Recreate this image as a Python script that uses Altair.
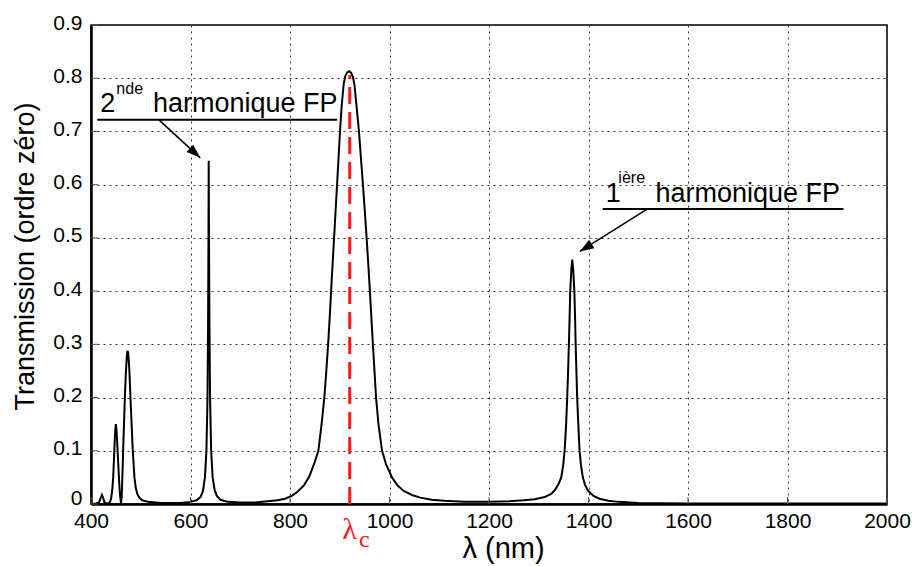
import altair as alt
import pandas as pd

# ---- data ----
wavelength_nm = [
    400, 410, 416, 419, 422, 424.5, 427, 432, 437, 440.5,
    443, 444.6, 446, 447.3, 448.7, 450, 451.3, 452.7, 454, 455.5,
    457, 458.5, 460.3, 461.8, 463, 464.6, 466.3, 468, 470, 472,
    473.5, 475, 477.2, 479.3, 481.6, 484, 487.3, 490, 493, 497,
    503, 515, 540, 580, 600, 612, 620, 625, 629, 632,
    634.2, 635.4, 636.1, 636.6, 637.2, 638, 639.3, 641.5, 644.5, 648.6,
    653, 660, 675, 700, 730, 755, 775, 790, 803, 815,
    828, 839, 849, 857, 863.5, 869, 873, 876.6, 879.8, 882.6,
    885.6, 888.6, 891.6, 894.6, 897.6, 900.5, 904, 908, 911.5, 915,
    919, 923, 926.5, 929.5, 933.5, 938.6, 942.6, 946.6, 950.4, 954,
    957.4, 960.6, 963.6, 966.6, 969.8, 973, 977.8, 985, 993, 1005,
    1016, 1028, 1045, 1062, 1085, 1110, 1150, 1200, 1240, 1270,
    1292, 1312, 1325, 1333, 1340, 1345.2, 1349, 1352, 1355, 1357.2,
    1359, 1360.6, 1362, 1363.3, 1365.5, 1367.4, 1369.3, 1371.6, 1373, 1374.2,
    1375.7, 1377.2, 1379.5, 1382, 1385, 1388.6, 1393, 1399, 1410, 1422,
    1440, 1460, 1500, 1600, 1800, 2000,
]
transmission = [
    0.000, 0.001, 0.003, 0.010, 0.017, 0.011, 0.003, 0.001, 0.002, 0.010,
    0.030, 0.050, 0.080, 0.110, 0.138, 0.150, 0.138, 0.115, 0.090, 0.062,
    0.035, 0.015, 0.002, 0.015, 0.050, 0.100, 0.150, 0.200, 0.245, 0.278,
    0.288, 0.282, 0.250, 0.200, 0.150, 0.100, 0.050, 0.030, 0.019, 0.012,
    0.007, 0.004, 0.002, 0.002, 0.004, 0.007, 0.013, 0.024, 0.050, 0.100,
    0.200, 0.350, 0.500, 0.645, 0.500, 0.350, 0.200, 0.100, 0.050, 0.026,
    0.015, 0.008, 0.004, 0.003, 0.003, 0.005, 0.007, 0.010, 0.015, 0.023,
    0.035, 0.052, 0.077, 0.100, 0.150, 0.200, 0.250, 0.300, 0.350, 0.400,
    0.450, 0.500, 0.550, 0.600, 0.650, 0.700, 0.750, 0.790, 0.805, 0.811,
    0.813, 0.810, 0.802, 0.788, 0.750, 0.700, 0.650, 0.600, 0.550, 0.500,
    0.450, 0.400, 0.350, 0.300, 0.250, 0.200, 0.150, 0.100, 0.075, 0.050,
    0.035, 0.025, 0.017, 0.012, 0.008, 0.006, 0.004, 0.004, 0.005, 0.007,
    0.009, 0.013, 0.019, 0.027, 0.038, 0.050, 0.072, 0.100, 0.150, 0.200,
    0.250, 0.300, 0.350, 0.400, 0.440, 0.459, 0.440, 0.400, 0.350, 0.300,
    0.250, 0.200, 0.150, 0.100, 0.072, 0.050, 0.036, 0.025, 0.015, 0.010,
    0.006, 0.004, 0.002, 0.001, 0.001, 0.001,
]

x_ticks = [400, 600, 800, 1000, 1200, 1400, 1600, 1800, 2000]
y_ticks = [0, 0.1, 0.2, 0.3, 0.4, 0.5, 0.6, 0.7, 0.8, 0.9]

lambda_c = [920]
lambda_c_top = [0.806]

# annotation texts (positions in data units)
ann_text = ["2", "nde", "harmonique FP", "1", "ière", "harmonique FP"]
ann_x = [418.6, 451.0, 524.6, 1434.6, 1460.0, 1534.6]
ann_y = [0.7374, 0.7707, 0.7374, 0.568, 0.6025, 0.568]
ann_size = [27, 16, 27, 27, 16, 27]

under_x = [412.6, 1428.6]
under_x2 = [894.6, 1912.6]
under_y = [0.7218, 0.5545]

arrow_x = [536.6, 1518.6]
arrow_y = [0.7218, 0.5545]
arrow_tip_x = [619.6, 1382.6]
arrow_tip_y = [0.6504, 0.4746]
arrow_angle = [132.5, 238.0]

# ---- chart ----
df = pd.DataFrame({"lam": wavelength_nm, "T": transmission})
ann = pd.DataFrame({"t": ann_text, "x": ann_x, "y": ann_y, "s": ann_size})
und = pd.DataFrame({"x": under_x, "x2": under_x2, "y": under_y})
arr = pd.DataFrame({"x": arrow_x, "y": arrow_y, "tx": arrow_tip_x,
                    "ty": arrow_tip_y, "a": arrow_angle})
lc = pd.DataFrame({"x": lambda_c, "top": lambda_c_top, "zero": [0]})
xt = pd.DataFrame({"v": x_ticks})
yt = pd.DataFrame({"v": y_ticks})

FONT = "Liberation Sans"
xs = alt.Scale(domain=[400, 2000], nice=False, zero=False)
ys = alt.Scale(domain=[0, 0.9], nice=False, zero=False)

x_axis = alt.Axis(values=x_ticks, title="λ (nm)", grid=True, ticks=False,
                  labelFlush=False, labelOverlap=False, labelFontSize=21,
                  labelPadding=6, titleFontSize=29, titleFontWeight="normal",
                  titleX=412, titleY=53, titleAlign="center",
                  titleBaseline="alphabetic", format="d")
y_axis = alt.Axis(values=y_ticks, title="Transmission (ordre zéro)", grid=True,
                  ticks=False, labelFlush=False, labelOverlap=False,
                  labelFontSize=21, labelPadding=9, titleFontSize=27,
                  titleFontWeight="normal", titleX=-58, titleY=231,
                  titleAngle=270, titleAlign="center",
                  titleBaseline="alphabetic", format="~g",
                  labelOffset={"condition": {"test": "datum.value == 0",
                                             "value": -6},
                               "value": -2})

curve = alt.Chart(df).mark_line(color="black", strokeWidth=2).encode(
    x=alt.X("lam:Q", scale=xs, axis=x_axis),
    y=alt.Y("T:Q", scale=ys, axis=y_axis),
    order="lam:Q",
)

xtick_marks = alt.Chart(xt).mark_rule(color="#555", strokeWidth=1).encode(
    x=alt.X("v:Q", scale=xs), y=alt.value(479), y2=alt.value(472))
ytick_marks = alt.Chart(yt).mark_rule(color="#555", strokeWidth=1).encode(
    y=alt.Y("v:Q", scale=ys), x=alt.value(0), x2=alt.value(7))

red = alt.Chart(lc).mark_rule(color="#ff1a1a", strokeWidth=3,
                              strokeDash=[17, 8]).encode(
    x=alt.X("x:Q", scale=xs), y=alt.Y("zero:Q", scale=ys), y2="top:Q",
)

texts = alt.Chart(ann).mark_text(align="left", baseline="alphabetic",
                                 font=FONT, color="black").encode(
    x=alt.X("x:Q", scale=xs), y=alt.Y("y:Q", scale=ys), text="t:N",
    size=alt.Size("s:Q", scale=None, legend=None),
)

underlines = alt.Chart(und).mark_rule(color="black", strokeWidth=2).encode(
    x=alt.X("x:Q", scale=xs), x2="x2:Q", y=alt.Y("y:Q", scale=ys))

arrows = alt.Chart(arr).mark_rule(color="black", strokeWidth=1.6).encode(
    x=alt.X("x:Q", scale=xs), y=alt.Y("y:Q", scale=ys), x2="tx:Q", y2="ty:Q")

heads = alt.Chart(arr).mark_point(shape="M0,0L0.7,2L-0.7,2Z", filled=True,
                                  size=196, color="black", opacity=1,
                                  strokeWidth=0).encode(
    x=alt.X("tx:Q", scale=xs), y=alt.Y("ty:Q", scale=ys),
    angle=alt.Angle("a:Q", scale=None),
)

lc_lab = pd.DataFrame({"t": ["λ", "c"], "x": [919.6, 938.6],
                       "y": [-0.0649, -0.080], "s": [30, 24]})
lam_c_main = alt.Chart(lc_lab.iloc[[0]]).mark_text(
    baseline="alphabetic", align="center", font="Liberation Serif",
    color="#ff1a1a").encode(
    x=alt.X("x:Q", scale=xs), y=alt.Y("y:Q", scale=ys), text="t:N",
    size=alt.Size("s:Q", scale=None, legend=None),
)
lam_c_sub = alt.Chart(lc_lab.iloc[[1]]).mark_text(
    baseline="alphabetic", align="left", font="Liberation Serif",
    color="#ff1a1a").encode(
    x=alt.X("x:Q", scale=xs), y=alt.Y("y:Q", scale=ys), text="t:N",
    size=alt.Size("s:Q", scale=None, legend=None),
)

chart = alt.layer(
    curve, xtick_marks, ytick_marks, red, underlines, arrows, heads, texts,
    lam_c_main, lam_c_sub,
).properties(
    width=796, height=479,
    autosize=alt.AutoSizeParams(type="none"),
    padding={"left": 83, "top": 17, "right": 24, "bottom": 62},
).configure_view(
    stroke="black", strokeWidth=1.5,
).configure_axis(
    domainColor="black", domainWidth=2.5, gridColor="#333", gridWidth=1,
    gridDash=[2, 4], gridOpacity=1, labelFont=FONT, titleFont=FONT,
    labelColor="black", titleColor="black",
)

chart.save("out.html", embed_options={"renderer": "svg", "actions": False})
